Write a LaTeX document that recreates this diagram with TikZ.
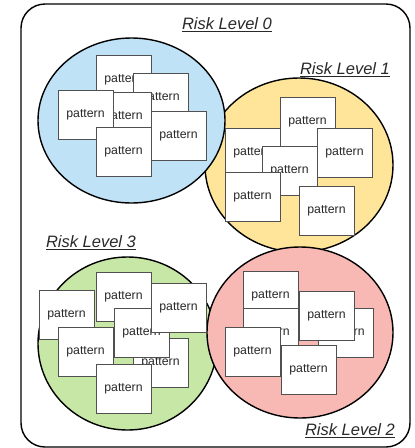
\documentclass[tikz,border=0pt]{standalone}
\usepackage{fontspec}
\setmainfont{Liberation Sans}
\usetikzlibrary{shapes.geometric}

\definecolor{zoneblue}{RGB}{192,226,247}
\definecolor{zoneyellow}{RGB}{255,229,153}
\definecolor{zonegreen}{RGB}{198,231,166}
\definecolor{zonered}{RGB}{248,185,180}
\definecolor{boxline}{RGB}{80,80,80}
\definecolor{ink}{RGB}{40,40,40}

\tikzset{
  zone/.style={ellipse, draw=black, line width=1.4pt, inner sep=0pt},
  pbox/.style={rectangle, draw=boxline, fill=white, line width=0.9pt,
    minimum width=55pt, minimum height=49pt, inner sep=0pt,
    text=ink, font=\fontsize{12.3}{14}\selectfont},
  level/.style={text=ink, font=\fontsize{16.5}{19}\selectfont\itshape, inner sep=1pt},
  frame/.style={draw=black, line width=1.4pt, rounded corners=24pt}
}

\begin{document}
\begin{tikzpicture}[x=1pt, y=-1pt]
  \useasboundingbox (0,0) rectangle (415,448);

  % outer frame
  \draw[frame] (21,4) rectangle (410,447);

  % risk zones
  \node[zone, fill=zoneyellow, minimum width=188pt, minimum height=174pt] (zone1) at (299,165) {};
  \node[zone, fill=zoneblue,   minimum width=187pt, minimum height=165pt] (zone0) at (131.5,120.5) {};
  \node[zone, fill=zonegreen,  minimum width=179pt, minimum height=173pt] (zone3) at (127.5,343.5) {};
  \node[zone, fill=zonered,    minimum width=186pt, minimum height=171pt] (zone2) at (300,332.5) {};

  % level 0 patterns
  \node[pbox] (b1) at (123.5,79.5)  {pattern};
  \node[pbox] (b2) at (160.5,97.5)  {pattern};
  \node[pbox] (b3) at (123.5,116.5) {pattern};
  \node[pbox] (b4) at (85.5,114.5)  {pattern};
  \node[pbox] (b5) at (123.5,151.5) {pattern};
  \node[pbox] (b6) at (178.5,135.5) {pattern};

  % level 1 patterns
  \node[pbox] (y1) at (307.5,121.5) {pattern};
  \node[pbox] (y2) at (252.5,152.5) {pattern};
  \node[pbox] (y3) at (289.5,170.5) {pattern};
  \node[pbox] (y4) at (344.5,152.5) {pattern};
  \node[pbox] (y5) at (252.5,196.5) {pattern};
  \node[pbox] (y6) at (326.5,210.5) {pattern};

  % level 2 patterns
  \node[pbox] (r1) at (270.5,295.5) {pattern};
  \node[pbox] (r2) at (270.5,332.5) {pattern};
  \node[pbox] (r3) at (345.5,332.5) {pattern};
  \node[pbox] (r4) at (326.5,315.5) {pattern};
  \node[pbox] (r5) at (252.5,351.5) {pattern};
  \node[pbox] (r6) at (308.5,369.5) {pattern};

  % level 3 patterns (back to front)
  \node[pbox] (g1) at (66.5,314.5)  {pattern};
  \node[pbox] (g2) at (123.5,296.5) {pattern};
  \node[pbox] (g4) at (160.5,362.5) {pattern};
  \node[pbox] (g5) at (85.5,351.5)  {pattern};
  \node[pbox] (g6) at (141.5,332.5) {pattern};
  \node[pbox] (g3) at (178.5,307.5) {pattern};
  \node[pbox] (g7) at (123.5,388.5) {pattern};

  % level captions
  \node[level] (lvl0) at (227,25)  {\underline{Risk Level 0}};
  \node[level] (lvl1) at (345,70)  {\underline{Risk Level 1}};
  \node[level] (lvl3) at (91,243)  {\underline{Risk Level 3}};
  \node[level] (lvl2) at (350,431) {\underline{Risk Level 2}};
\end{tikzpicture}
\end{document}
